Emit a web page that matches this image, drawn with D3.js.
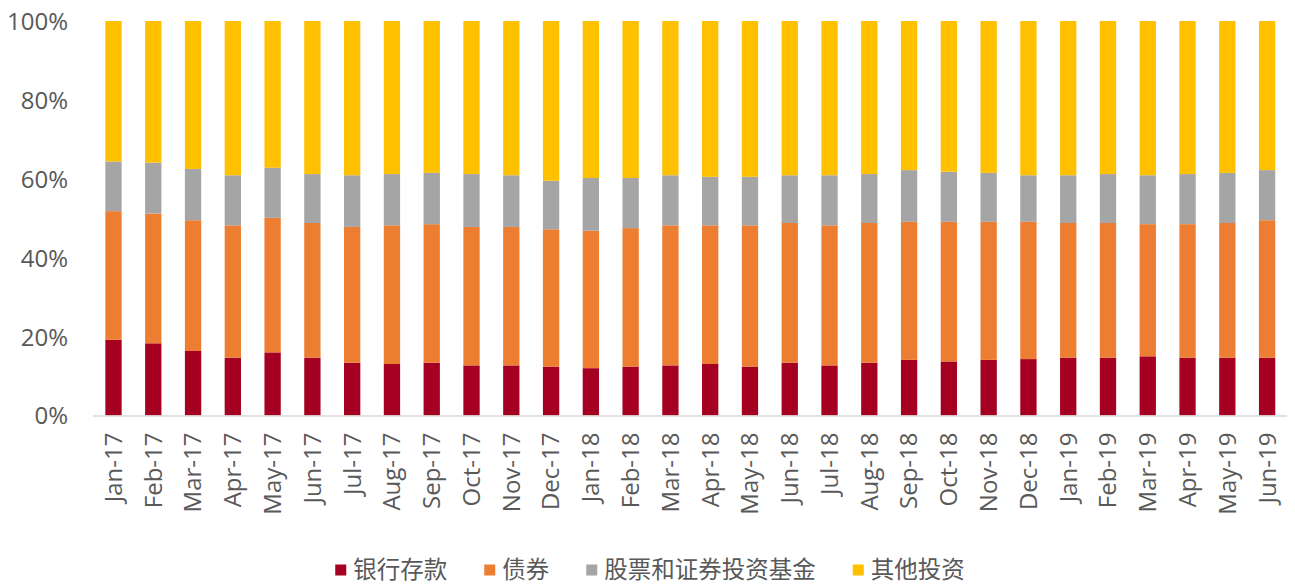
<!DOCTYPE html>
<html>
<head>
<meta charset="utf-8">
<script src="https://cdn.jsdelivr.net/npm/d3@7"></script>
<style>
  html, body { margin: 0; padding: 0; background: #fff; }
  svg text { font-family: "Open Sans", "Noto Sans CJK SC", sans-serif; fill: #595959; }
</style>
</head>
<body>
<svg id="chart" width="1295" height="585"></svg>
<script>
const categories = ["Jan-17","Feb-17","Mar-17","Apr-17","May-17","Jun-17","Jul-17","Aug-17","Sep-17","Oct-17","Nov-17","Dec-17",
  "Jan-18","Feb-18","Mar-18","Apr-18","May-18","Jun-18","Jul-18","Aug-18","Sep-18","Oct-18","Nov-18","Dec-18",
  "Jan-19","Feb-19","Mar-19","Apr-19","May-19","Jun-19"];
const seriesNames = ["银行存款","债券","股票和证券投资基金","其他投资"];
const seriesColors = ["#A50021","#ED7D31","#A5A5A5","#FFC000"];
const deposits = [19.2,18.3,16.35,14.65,16.0,14.65,13.4,13.05,13.4,12.7,12.7,12.4,12.0,12.4,12.7,13.05,12.4,13.4,12.7,13.4,14.1,13.7,14.1,14.3,14.65,14.65,15.0,14.65,14.65,14.65];
const bonds = [32.6,32.9,33.15,33.55,34.1,34.15,34.4,35.15,35.1,35.1,35.1,34.8,34.85,35.1,35.5,35.15,35.8,35.4,35.5,35.4,35.0,35.4,35.0,34.8,34.15,34.15,33.5,33.85,34.15,34.85];
const stocksFunds = [12.6,12.9,13.0,12.7,12.7,12.4,13.1,13.0,13.0,13.4,13.1,12.3,13.35,12.7,12.7,12.3,12.3,12.1,12.7,12.4,13.1,12.7,12.4,11.8,12.1,12.4,12.4,12.7,12.7,12.7];
const others = [35.6,35.9,37.5,39.1,37.2,38.8,39.1,38.8,38.5,38.8,39.1,40.5,39.8,39.8,39.1,39.5,39.5,39.1,39.1,38.8,37.8,38.2,38.5,39.1,39.1,38.8,39.1,38.8,38.5,37.8];
const yTicks = [0, 0.2, 0.4, 0.6, 0.8, 1.0];

const rows = categories.map((c, i) => {
  const t = deposits[i] + bonds[i] + stocksFunds[i] + others[i];
  return { cat: c, s0: deposits[i]/t, s1: bonds[i]/t, s2: stocksFunds[i]/t, s3: others[i]/t };
});

const svg = d3.select("#chart");
const x = d3.scaleBand().domain(categories).range([93.6, 1287]).paddingInner(0.59).paddingOuter(0.295);
const y = d3.scaleLinear().domain([0, 1]).range([415.5, 21]);

const stack = d3.stack().keys(["s0","s1","s2","s3"]);
const layers = stack(rows);

svg.append("g").selectAll("g").data(layers).join("g")
  .attr("fill", (d, i) => seriesColors[i])
  .selectAll("rect").data(d => d).join("rect")
  .attr("x", d => x(d.data.cat))
  .attr("width", x.bandwidth())
  .attr("y", d => y(d[1]))
  .attr("height", d => y(d[0]) - y(d[1]));

// y axis labels
const yAxis = d3.axisLeft(y).tickValues(yTicks).tickFormat(d3.format(".0%")).tickSize(0).tickPadding(25);
const gy = svg.append("g").attr("transform", "translate(93,0)").call(yAxis);
gy.select(".domain").remove();
gy.selectAll("text").style("font-size", "24px").attr("fill", "#595959").attr("dy", "0.35em");

// x axis
const xAxis = d3.axisBottom(x).tickSize(0).tickPadding(0);
const gx = svg.append("g").attr("transform", `translate(0,${y(0)})`).call(xAxis);
gx.select(".domain").attr("stroke", "#D9D9D9").attr("stroke-width", 1.5).attr("d", "M93,0.5H1287");
gx.selectAll("text")
  .style("font-size", "24px")
  .attr("fill", "#595959")
  .attr("text-anchor", "end")
  .attr("transform", "rotate(-90)")
  .attr("x", -17)
  .attr("y", 0)
  .attr("dy", "0.35em");

// legend
const legend = svg.append("g");
const gap = 37;
let cx = 0;
seriesNames.forEach((name, i) => {
  const g = legend.append("g");
  g.append("rect").attr("x", 0).attr("y", -5.5).attr("width", 11).attr("height", 11).attr("fill", seriesColors[i]);
  const t = g.append("text").attr("x", 18).attr("y", 0).attr("dy", "0.34em").style("font-size", "23.5px").text(name);
  const w = t.node().getComputedTextLength();
  g.attr("transform", `translate(${cx},0)`);
  cx += 18 + w + gap;
});
const totalW = cx - gap;
legend.attr("transform", `translate(${650 - totalW/2},570)`);
</script>
</body>
</html>
